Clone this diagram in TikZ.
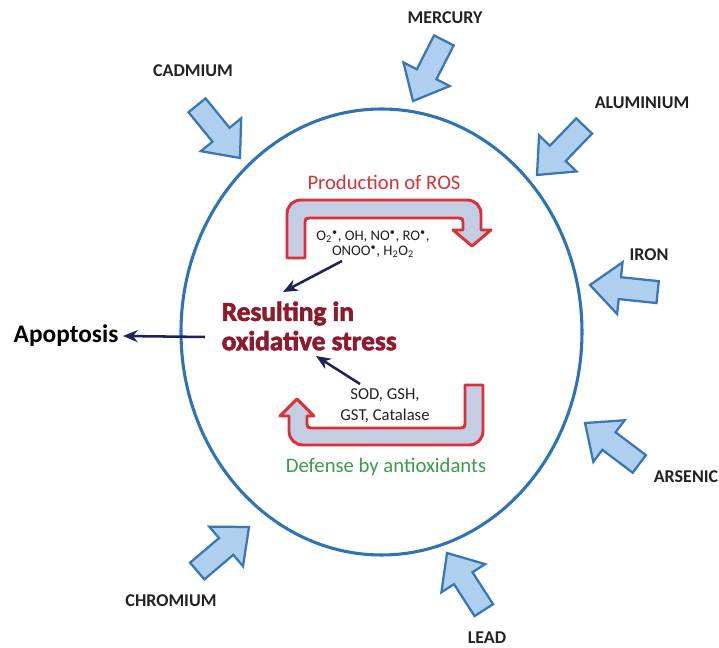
\documentclass[tikz,border=0pt]{standalone}
\usepackage{fontspec}
\setmainfont{Carlito}
\newfontfamily\heavyfont[FakeBold=2.5]{Carlito}
\usetikzlibrary{arrows.meta}
\definecolor{ellblue}{HTML}{2E74B5}
\definecolor{arrfill}{HTML}{AFCFEE}
\definecolor{arrdraw}{HTML}{3A77B2}
\definecolor{uarrfill}{HTML}{C4CDE1}
\definecolor{uarrdraw}{HTML}{D8313A}
\definecolor{navyc}{HTML}{1F2257}
\definecolor{rosred}{HTML}{D2343C}
\definecolor{maroonc}{HTML}{8C1C2D}
\definecolor{defgreen}{HTML}{3C9A4C}
\definecolor{txtdark}{HTML}{222222}
\newcommand{\blockarrow}[2]{%
  \draw[blockarr, shift={#1}, rotate=#2] (0,0) -- (-30,-26) -- (-30,-11) -- (-68,-11) -- (-68,11) -- (-30,11) -- (-30,26) -- cycle;}
\tikzset{
  blockarr/.style={fill=arrfill, draw=arrdraw, line width=1.7pt, line join=miter},
  metal/.style={font=\fontsize{13.5}{15}\selectfont\bfseries, text=txtdark},
  uarr/.style={fill=uarrfill, draw=uarrdraw, line width=2.2pt, line join=round},
  navyarr/.style={draw=navyc, line width=1.9pt, -{Stealth[length=11pt,width=9pt]}},
}
\begin{document}
\begin{tikzpicture}[x=0.75pt,y=-0.75pt]
\useasboundingbox[fill=white] (0,0) rectangle (719,648);
% cell
\draw[ellblue, line width=2.3pt] (381.5,332) ellipse [x radius=200.5, y radius=223];
% metal arrows
\blockarrow{(413,101)}{-117}
\blockarrow{(240,158)}{-50.8}
\blockarrow{(537,175)}{-133.9}
\blockarrow{(590,285)}{174}
\blockarrow{(585,423)}{143}
\blockarrow{(447,553)}{122.8}
\blockarrow{(249,527)}{40.4}
% labels
\node[metal] (mercury) at (445,18) {MERCURY};
\node[metal] (cadmium) at (193,71) {CADMIUM};
\node[metal] (aluminium) at (642,103) {ALUMINIUM};
\node[metal] (iron) at (649,255) {IRON};
\node[metal] (arsenic) at (686,477) {ARSENIC};
\node[metal] (chromium) at (171,601) {CHROMIUM};
\node[metal] (lead) at (487,638) {LEAD};
% ROS loop
\draw[uarr] (287,258) -- (287,214) .. controls (287,206) and (293,200) .. (301,200) -- (467,200) .. controls (475,200) and (481,206) .. (481,214) -- (481,230) -- (491,230) -- (472,246) -- (453,230) -- (463,230) -- (463,222) .. controls (463,219) and (462,218) .. (459,218) -- (309,218) .. controls (306,218) and (305,219) .. (305,222) -- (305,258) -- cycle;
% antioxidant loop
\draw[uarr] (465,385) -- (483,385) -- (483,431) .. controls (483,439) and (477,445) .. (469,445) -- (303,445) .. controls (295,445) and (289,439) .. (289,431) -- (289,416) -- (280,416) -- (297,399) -- (314,416) -- (307,416) -- (307,424) .. controls (307,427) and (308,428) .. (311,428) -- (461,428) .. controls (464,428) and (465,427) .. (465,424) -- cycle;
% texts
\node[text=rosred, font=\fontsize{15.5}{17}\selectfont] (prod) at (384,182) {Production of ROS};
\node[text=defgreen, font=\fontsize{15.5}{17}\selectfont] (def) at (386,467) {Defense by antioxidants};
\node[text=txtdark, font=\fontsize{11}{11.3}\selectfont, align=center] (ros) at (373,244)
  {O\textsubscript{2}\textsuperscript{•}, OH, NO\textsuperscript{•}, RO\textsuperscript{•},\\ONOO\textsuperscript{•}, H\textsubscript{2}O\textsubscript{2}};
\node[text=txtdark, font=\fontsize{12.5}{15.8}\selectfont, align=center] (sod) at (385,406) {SOD, GSH,\\GST, Catalase};
\node[text=maroonc, font=\heavyfont\bfseries\fontsize{20.5}{22}\selectfont, align=left, anchor=west] (stress) at (217,326) {Resulting in\\oxidative stress};
\node[text=black, font=\fontsize{19}{21}\selectfont\bfseries] (apop) at (66,336) {Apoptosis};
% navy arrows
\coordinate (rosend) at (342,261);
\coordinate (rostip) at (283,292);
\coordinate (sodend) at (360,384);
\coordinate (sodtip) at (316,356);
\coordinate (apstart) at (205,337);
\draw[navyarr] (rosend) -- (rostip);
\draw[navyarr] (sodend) -- (sodtip);
\draw[navyarr] (apstart) -- (apop.east);
\end{tikzpicture}
\end{document}
